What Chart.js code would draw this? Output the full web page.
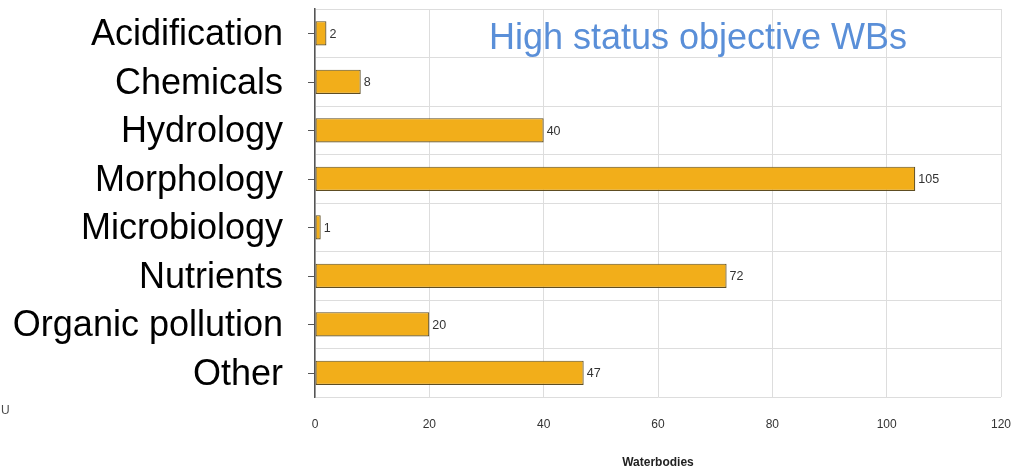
<!DOCTYPE html>
<html>
<head>
<meta charset="utf-8">
<script src="https://cdn.jsdelivr.net/npm/chart.js@4/dist/chart.umd.min.js"></script>
<style>
  html, body { margin: 0; padding: 0; background: #ffffff; }
  #wrap { width: 1013px; height: 468px; position: relative; }
</style>
</head>
<body>
<div id="wrap"><canvas id="chart" width="1013" height="468"></canvas></div>
<script>
// Pressures on water bodies with a high status objective
const categories = ['Acidification', 'Chemicals', 'Hydrology', 'Morphology', 'Microbiology', 'Nutrients', 'Organic pollution', 'Other'];
const waterbodies = [2, 8, 40, 105, 1, 72, 20, 47];
const xTicks = [0, 20, 40, 60, 80, 100, 120];
const chartTitle = 'High status objective WBs';
const xAxisTitle = 'Waterbodies';
const cornerNote = 'U';

const FONT = "'Liberation Sans', Arial, sans-serif";

// Tick marks at category centres, value labels, title text
const overlay = {
  id: 'overlay',
  afterDatasetsDraw(chart) {
    const ctx = chart.ctx;
    const y = chart.scales.y;
    const area = chart.chartArea;
    ctx.save();
    // short tick marks on the category axis
    ctx.strokeStyle = '#555555';
    ctx.lineWidth = 1;
    categories.forEach((c, i) => {
      const py = Math.round(y.getPixelForValue(i)) + 0.5;
      ctx.beginPath();
      ctx.moveTo(area.left - 7, py);
      ctx.lineTo(area.left, py);
      ctx.stroke();
    });
    // value labels at the end of each bar
    ctx.fillStyle = '#333333';
    ctx.font = '12.5px ' + FONT;
    ctx.textAlign = 'left';
    ctx.textBaseline = 'middle';
    const meta = chart.getDatasetMeta(0);
    meta.data.forEach((bar, i) => {
      ctx.fillText(String(waterbodies[i]), bar.x + 3, bar.y + 1);
    });
    // title inside the plot
    ctx.fillStyle = '#5A8FD8';
    ctx.font = '36px ' + FONT;
    ctx.textAlign = 'center';
    ctx.textBaseline = 'alphabetic';
    ctx.fillText(chartTitle, 698, 49);
    // small note at the lower left
    ctx.fillStyle = '#4a4a4a';
    ctx.font = '12px ' + FONT;
    ctx.textAlign = 'left';
    ctx.textBaseline = 'middle';
    ctx.fillText(cornerNote, 1, 411);
    ctx.restore();
  }
};

new Chart(document.getElementById('chart'), {
  type: 'bar',
  data: {
    labels: categories,
    datasets: [{
      data: waterbodies,
      backgroundColor: '#F2AE1A',
      borderColor: '#5E4D22',
      borderWidth: 1.2,
      borderSkipped: false,
      barPercentage: 0.5,
      categoryPercentage: 1.0
    }]
  },
  options: {
    indexAxis: 'y',
    responsive: false,
    animation: false,
    devicePixelRatio: 1,
    layout: { autoPadding: false, padding: { top: 9, right: 12, left: 0, bottom: 0 } },
    plugins: {
      legend: { display: false },
      tooltip: { enabled: false },
      title: { display: false }
    },
    scales: {
      x: {
        type: 'linear',
        min: xTicks[0],
        max: xTicks[xTicks.length - 1],
        afterBuildTicks(scale) { scale.ticks = xTicks.map(v => ({ value: v })); },
        afterFit(scale) {
          scale.height = 71;
          scale.paddingLeft = 0;
          scale.paddingRight = 0;
        },
        grid: { color: '#dddddd', lineWidth: 1, drawTicks: false },
        border: { display: false },
        ticks: { color: '#333333', font: { family: FONT, size: 12 }, padding: 20, autoSkip: false },
        title: {
          display: true,
          text: xAxisTitle,
          color: '#222222',
          font: { family: FONT, size: 12, weight: 'bold', lineHeight: 1 },
          padding: { top: 0, bottom: -1 }
        }
      },
      y: {
        afterFit(scale) {
          scale.width = 315;
          scale.paddingTop = 0;
          scale.paddingBottom = 0;
        },
        grid: { offset: true, color: '#dddddd', lineWidth: 1, drawTicks: false },
        border: { display: true, color: '#555555', width: 1.5 },
        ticks: { color: '#000000', font: { family: FONT, size: 36 }, padding: 32, labelOffset: 2, autoSkip: false }
      }
    }
  },
  plugins: [overlay]
});
</script>
</body>
</html>
